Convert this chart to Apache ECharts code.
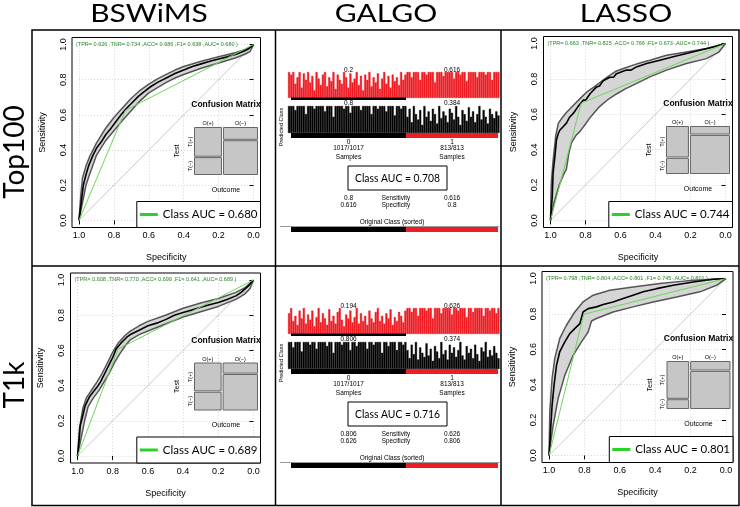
<!DOCTYPE html>
<html><head><meta charset="utf-8">
<script src="https://cdn.jsdelivr.net/npm/echarts@6/dist/echarts.min.js"></script>
<style>html,body{margin:0;padding:0;background:#fff}#c{width:740px;height:507px}</style>
</head><body><div id="c"></div>
<script>
// ================= DATA =================
const methods = ['BSWiMS', 'GALGO', 'LASSO'];
const rowLabels = ['Top100', 'T1k'];
// stats: [TPR, TNR, ACC, F1, AUC]
const bswTopStats = [0.626, 0.734, 0.686, 0.638, 0.680];
const bswBotStats = [0.608, 0.770, 0.699, 0.641, 0.689];
const lassoTopStats = [0.663, 0.825, 0.766, 0.673, 0.744];
const lassoBotStats = [0.798, 0.804, 0.801, 0.745, 0.801];
// share of positive outcomes (mosaic column widths)
const bswTopPrev = 0.444, bswBotPrev = 0.438, lassoTopPrev = 0.364, lassoBotPrev = 0.36;

// ROC curves [specificity, sensitivity]
const bswTopMean = [[1,0],[0.985,0.12],[0.975,0.2],[0.96,0.26],[0.945,0.31],[0.92,0.37],[0.9,0.41],[0.87,0.45],[0.845,0.49],[0.82,0.52],[0.79,0.56],[0.76,0.6],[0.73,0.635],[0.7,0.665],[0.66,0.705],[0.63,0.73],[0.59,0.76],[0.55,0.785],[0.5,0.81],[0.45,0.835],[0.4,0.855],[0.35,0.875],[0.3,0.89],[0.25,0.905],[0.2,0.918],[0.15,0.93],[0.1,0.945],[0.06,0.96],[0.03,0.975],[0.01,0.99],[0,1]];
const bswTopUpper = [[1,0],[0.99,0.14],[0.98,0.24],[0.96,0.31],[0.94,0.36],[0.9,0.44],[0.85,0.52],[0.8,0.585],[0.75,0.64],[0.7,0.695],[0.65,0.74],[0.6,0.775],[0.55,0.805],[0.5,0.83],[0.45,0.855],[0.4,0.875],[0.3,0.905],[0.2,0.93],[0.1,0.955],[0.05,0.97],[0,1]];
const bswTopLower = [[1,0],[0.98,0.1],[0.96,0.2],[0.94,0.26],[0.9,0.37],[0.85,0.45],[0.8,0.51],[0.75,0.57],[0.7,0.625],[0.65,0.68],[0.6,0.725],[0.55,0.755],[0.5,0.785],[0.45,0.81],[0.4,0.83],[0.3,0.865],[0.2,0.895],[0.1,0.925],[0.05,0.945],[0.02,0.96],[0,1]];

const bswBotMean = [[1,0],[0.99,0.1],[0.985,0.17],[0.97,0.23],[0.957,0.285],[0.94,0.32],[0.93,0.34],[0.91,0.365],[0.89,0.39],[0.87,0.42],[0.855,0.45],[0.835,0.49],[0.815,0.53],[0.8,0.56],[0.78,0.61],[0.75,0.645],[0.72,0.675],[0.7,0.69],[0.65,0.715],[0.6,0.74],[0.55,0.755],[0.5,0.775],[0.45,0.8],[0.4,0.815],[0.35,0.83],[0.3,0.845],[0.25,0.86],[0.2,0.872],[0.15,0.89],[0.1,0.91],[0.07,0.93],[0.03,0.965],[0,1]];
const bswBotUpper = [[1,0],[0.99,0.15],[0.97,0.27],[0.95,0.33],[0.92,0.375],[0.89,0.42],[0.86,0.47],[0.83,0.53],[0.8,0.59],[0.77,0.64],[0.73,0.685],[0.7,0.71],[0.65,0.74],[0.6,0.765],[0.5,0.8],[0.4,0.84],[0.3,0.87],[0.2,0.895],[0.1,0.93],[0.05,0.955],[0,1]];
const bswBotLower = [[1,0],[0.98,0.1],[0.96,0.2],[0.94,0.28],[0.91,0.33],[0.88,0.37],[0.85,0.42],[0.82,0.47],[0.79,0.53],[0.76,0.58],[0.73,0.625],[0.7,0.66],[0.65,0.69],[0.6,0.71],[0.5,0.75],[0.4,0.79],[0.3,0.82],[0.2,0.85],[0.1,0.89],[0.05,0.92],[0.02,0.95],[0,1]];

const lassoTopMean = [[1,0],[0.99,0.135],[0.985,0.27],[0.975,0.36],[0.966,0.455],[0.956,0.49],[0.947,0.51],[0.928,0.53],[0.909,0.55],[0.89,0.585],[0.87,0.605],[0.842,0.645],[0.813,0.68],[0.8,0.68],[0.775,0.715],[0.737,0.755],[0.72,0.76],[0.699,0.79],[0.661,0.81],[0.64,0.81],[0.623,0.83],[0.566,0.85],[0.54,0.85],[0.509,0.868],[0.451,0.887],[0.375,0.906],[0.299,0.925],[0.223,0.944],[0.147,0.962],[0.07,0.981],[0,1]];
const lassoTopUpper = [[1,0],[0.997,0.15],[0.994,0.23],[0.985,0.34],[0.97,0.48],[0.955,0.55],[0.93,0.585],[0.909,0.61],[0.87,0.65],[0.83,0.69],[0.794,0.725],[0.75,0.755],[0.718,0.78],[0.67,0.815],[0.623,0.845],[0.575,0.862],[0.528,0.878],[0.48,0.893],[0.432,0.906],[0.337,0.934],[0.223,0.953],[0.109,0.972],[0,1]];
const lassoTopLower = [[1,0],[0.98,0.1],[0.95,0.2],[0.925,0.26],[0.909,0.29],[0.895,0.38],[0.88,0.44],[0.855,0.48],[0.83,0.505],[0.8,0.545],[0.775,0.58],[0.718,0.645],[0.67,0.685],[0.623,0.715],[0.575,0.742],[0.528,0.765],[0.432,0.812],[0.337,0.85],[0.223,0.887],[0.109,0.915],[0.04,0.95],[0,1]];

const lassoBotMean = [[1,0],[0.992,0.132],[0.983,0.283],[0.972,0.396],[0.958,0.509],[0.94,0.585],[0.911,0.642],[0.883,0.689],[0.855,0.717],[0.826,0.745],[0.815,0.745],[0.808,0.811],[0.779,0.83],[0.732,0.84],[0.694,0.853],[0.638,0.868],[0.581,0.887],[0.525,0.906],[0.468,0.925],[0.392,0.943],[0.298,0.962],[0.185,0.981],[0.072,0.996],[0,1]];
const lassoBotUpper = [[1,0],[0.996,0.245],[0.983,0.434],[0.968,0.547],[0.94,0.66],[0.902,0.736],[0.855,0.811],[0.808,0.868],[0.751,0.906],[0.657,0.934],[0.525,0.953],[0.374,0.972],[0.223,0.987],[0,1]];
const lassoBotLower = [[1,0],[0.99,0.08],[0.977,0.17],[0.949,0.321],[0.911,0.453],[0.864,0.566],[0.817,0.642],[0.779,0.698],[0.76,0.76],[0.732,0.774],[0.638,0.811],[0.525,0.84],[0.411,0.868],[0.279,0.896],[0.147,0.925],[0.053,0.962],[0,1]];

// GALGO
const classNames = ['0', '1'];
const classCounts = [1017, 813];
const galgoTopFreq = { red: [0.2, 0.616], black: [0.8, 0.384] };
const galgoBotFreq = { red: [0.194, 0.626], black: [0.806, 0.374] };
const galgoTopAUC = 0.708, galgoBotAUC = 0.716;
const galgoTopSensSpec = [[0.8, 0.616], [0.616, 0.8]];   // [class0 col, class1 col]
const galgoBotSensSpec = [[0.806, 0.626], [0.626, 0.806]];
// per-sample bars (estimated), class 0 then class 1
const redTop0 = [1,.9,1,.55,.8,1,.4,.95,.7,1,.6,.85,.3,1,.75,.5,.9,1,.45,.8,.65,1,.35,.9,.7,.55,1,.8,.4,.95,.6,.75,1,.5,.85,.3,.9,.7,1,.45,.8,.6,.95,.35,.75,1,.55,.85,.4,.9,.65,.8,.5,1,.7,.9];
const redTop1 = [1,1,.8,1,1,1,.7,1,1,.9,1,1,1,.6,1,1,1,.85,1,1,1,1,.75,1,1,.9,1,1,.65,1,1,1,1,.8,1,1,1,.9,1,1,.7,1,1,1];
const blackTop0 = [1,1,1,.85,1,1,1,1,.7,1,1,1,.9,1,1,1,1,.8,1,1,1,.6,1,1,1,1,.9,1,1,.75,1,1,1,1,.85,1,1,1,1,.7,1,1,.9,1,1,1,.8,1,1,1,.65,1,1,.9,1,1];
const blackTop1 = [.6,.9,.4,1,.7,.5,.85,.3,1,.6,.8,.45,.9,.7,.35,1,.55,.8,.65,.4,.9,.75,.5,1,.6,.3,.85,.7,.45,.95,.6,.8,.4,.7,1,.5,.85,.6,.35,.9,.7,.55,.8,.65];
const redBot0 = [.8,1,.5,.7,.35,.9,.6,1,.4,.75,.55,.9,.3,.65,1,.45,.8,.6,.35,.95,.5,.7,.4,.85,1,.55,.3,.75,.6,.9,.45,.65,1,.4,.8,.5,.7,.35,.9,.6,.45,.85,1,.5,.7,.4,.8,.6,.95,.35,.65,.5,.85,.7,.45,.9];
const redBot1 = [1,1,.85,1,1,.7,1,1,1,.9,1,1,.6,1,1,1,.8,1,1,1,1,.75,1,1,.9,1,1,1,.65,1,1,.85,1,1,1,1,.7,1,1,.9,1,1,.8,1];
const blackBot0 = [1,1,.8,1,1,1,.65,1,1,1,.9,1,1,.75,1,1,1,1,.85,1,1,.6,1,1,1,.9,1,1,1,.7,1,1,.85,1,1,1,1,.75,1,1,.9,1,1,1,.6,1,1,.85,1,1,1,.7,1,1,.9,1];
const blackBot1 = [.7,.4,.9,.55,1,.35,.8,.6,.45,.95,.5,.75,.3,.85,.65,.4,1,.55,.7,.35,.9,.6,.8,.45,.7,1,.5,.35,.85,.6,.75,.4,.9,.55,.3,.8,.65,1,.45,.7,.5,.85,.6,.4];

// ================= BUILD =================
const SANS = "'Liberation Sans', Arial, sans-serif";
const CAL = "Lato, 'Open Sans', sans-serif";
const RED = '#ee1d23';
const grids = [], xAxes = [], yAxes = [], series = [], legends = [], graphics = [];

function addGrid(g, xa, ya) {
  grids.push(Object.assign({ outerBoundsMode: 'none', containLabel: false }, g));
  const i = grids.length - 1;
  xAxes.push(Object.assign({ gridIndex: i }, xa));
  yAxes.push(Object.assign({ gridIndex: i }, ya));
  return i;
}
const hidVal = (min, max) => ({ type: 'value', min, max, show: false });
function txt(x, y, text, opt) {
  opt = opt || {};
  graphics.push({
    type: 'text', x, y, z: 100, rotation: opt.rot || 0, scaleX: opt.sx || 1, scaleY: opt.sy || 1, silent: true,
    style: { text, fontSize: opt.size || 7, fontFamily: opt.font || SANS, fontWeight: opt.weight || 'normal',
      fill: opt.color || '#000', align: opt.align || 'center', verticalAlign: opt.va || 'middle' }
  });
}
function line(x1, y1, x2, y2, w, c) {
  graphics.push({ type: 'line', z: 100, silent: true, shape: { x1, y1, x2, y2 }, style: { stroke: c || '#000', lineWidth: w || 1 } });
}

function rocPanel(box, stats, prev, mean, upper, lower) {
  addGrid({ left: box.x, top: box.y, width: box.w, height: box.h, show: true, borderColor: '#000', borderWidth: 1, backgroundColor: 'rgba(0,0,0,0)' }, hidVal(0, 1), hidVal(0, 1));
  const px = box.w * 0.04 / 1.08, py = box.h * 0.04 / 1.08;
  const lab = { fontSize: 9, color: '#000', fontFamily: SANS, margin: 4, formatter: v => v.toFixed(1), showMinLabel: true, showMaxLabel: true };
  const gi = addGrid({ left: box.x + px, top: box.y + py, width: box.w - 2 * px, height: box.h - 2 * py },
    { type: 'value', min: 0, max: 1, interval: 0.2, inverse: true, offset: px,
      axisLine: { show: false }, axisTick: { show: true, length: 4, lineStyle: { color: '#000', width: 1 } },
      axisLabel: lab, splitLine: { show: true, lineStyle: { color: '#d6d6d6', width: 1, type: [1, 2] } },
      name: 'Specificity', nameLocation: 'middle', nameGap: 26, nameTextStyle: { fontSize: 9, fontFamily: SANS, color: '#000' } },
    { type: 'value', min: 0, max: 1, interval: 0.2, offset: py,
      axisLine: { show: false }, axisTick: { show: true, length: 4, lineStyle: { color: '#000', width: 1 } },
      axisLabel: Object.assign({ rotate: 90 }, lab), splitLine: { show: true, lineStyle: { color: '#d6d6d6', width: 1, type: [1, 2] } },
      name: 'Sensitivity', nameLocation: 'middle', nameGap: 25, nameTextStyle: { fontSize: 9, fontFamily: SANS, color: '#000' } });
  const poly = upper.concat(lower.slice().reverse());
  series.push({ type: 'custom', xAxisIndex: gi, yAxisIndex: gi, data: poly, encode: { x: 0, y: 1 }, silent: true, z: 1,
    renderItem(params, api) {
      if (params.dataIndex !== 0) return null;
      return { type: 'polygon', shape: { points: poly.map(p => api.coord(p)) }, style: { fill: '#d5d5d5', stroke: null } };
    } });
  series.push({ type: 'line', xAxisIndex: gi, yAxisIndex: gi, data: [[1, 0], [0, 1]], showSymbol: false, silent: true, z: 2,
    lineStyle: { color: '#c8c8c8', width: 1 }, color: '#c8c8c8' });
  [upper, lower].forEach(d => series.push({ type: 'line', xAxisIndex: gi, yAxisIndex: gi, data: d, showSymbol: false, silent: true, z: 3,
    lineStyle: { color: '#555', width: 1.5 }, color: '#555' }));
  series.push({ type: 'line', xAxisIndex: gi, yAxisIndex: gi, data: mean, showSymbol: false, silent: true, z: 4,
    lineStyle: { color: '#000', width: 1.6 }, color: '#000' });
  const name = 'Class AUC = ' + stats[4].toFixed(3);
  series.push({ name, type: 'line', xAxisIndex: gi, yAxisIndex: gi, data: [[1, 0], [stats[1], stats[0]], [0, 1]], showSymbol: false, silent: true, z: 5,
    lineStyle: { color: '#6ad855', width: 1 }, color: '#6ad855' });
  legends.push({ data: [{ name, icon: 'rect' }], right: 740 - (box.x + box.w), bottom: 507 - (box.y + box.h), itemWidth: 18, itemHeight: 3,
    padding: [7, 3, 7, 3], borderColor: '#000', borderWidth: 1, backgroundColor: '#fff', selectedMode: false, z: 20,
    itemStyle: { color: '#2ad22a' }, textStyle: { fontSize: 11.5, fontFamily: CAL, color: '#000' } });
  const st = '(TPR= ' + stats[0].toFixed(3) + ' ,TNR= ' + stats[1].toFixed(3) + ' ,ACC= ' + stats[2].toFixed(3) + ' ,F1= ' + stats[3].toFixed(3) + ' ,AUC= ' + stats[4].toFixed(3) + ' )';
  txt(box.x + 4, box.y + 6.5, st, { size: 5.5, align: 'left', color: '#2b8a2b' });
  // mosaic
  const mx = box.x + box.w - 66, my = box.y + 90, mw = 63, mh = 47;
  const mg = addGrid({ left: mx, top: my, width: mw, height: mh }, hidVal(0, 1), hidVal(0, 1));
  const tpr = stats[0], tnr = stats[1];
  const cells = [
    [0, prev, 1 - tpr, 1, 'O(+)', 'T(+)'],
    [0, prev, 0, 1 - tpr, '', 'T(\u2212)'],
    [prev, 1, tnr, 1, 'O(\u2212)', ''],
    [prev, 1, 0, tnr, '', '']
  ];
  series.push({ type: 'custom', xAxisIndex: mg, yAxisIndex: mg, clip: false, silent: true, z: 6,
    data: cells.map(c => [c[0], c[1], c[2], c[3]]),
    renderItem(params, api) {
      const c = cells[params.dataIndex];
      const tl = api.coord([c[0], c[3]]), br = api.coord([c[1], c[2]]);
      const gx = 1.0, gy = 0.7;
      const x0 = tl[0] + (c[0] > 0 ? gx : 0), x1 = br[0] - (c[1] < 1 ? gx : 0);
      const y0 = tl[1] + (c[3] < 1 ? gy : 0), y1 = br[1] - (c[2] > 0 ? gy : 0);
      const ch = [{ type: 'rect', shape: { x: x0, y: y0, width: x1 - x0, height: y1 - y0 }, style: { fill: '#c6c6c6', stroke: '#666', lineWidth: 1 } }];
      if (c[4]) ch.push({ type: 'text', x: (x0 + x1) / 2, y: y0 - 1, style: { text: c[4], fontSize: 5.5, fontFamily: SANS, fill: '#000', align: 'center', verticalAlign: 'bottom' } });
      if (c[5]) ch.push({ type: 'text', x: x0 - 1.5, y: (y0 + y1) / 2, rotation: Math.PI / 2, style: { text: c[5], fontSize: 5.5, fontFamily: SANS, fill: '#000', align: 'center', verticalAlign: 'bottom' } });
      return { type: 'group', children: ch };
    } });
  txt(mx + mw / 2, my - 22.5, 'Confusion Matrix', { size: 8.5, weight: 'bold' });
  txt(mx - 17, my + mh / 2, 'Test', { size: 7, rot: Math.PI / 2 });
  txt(mx + mw / 2, my + mh + 15.5, 'Outcome', { size: 7 });
}

function classBar(left, top, width, height, colors) {
  const gi = addGrid({ left, top, width, height },
    { type: 'value', min: 0, max: classCounts[0] + classCounts[1], show: false },
    { type: 'category', data: ['c'], show: false });
  classCounts.forEach((n, k) => series.push({ type: 'bar', xAxisIndex: gi, yAxisIndex: gi, stack: 'cls' + gi, data: [n],
    barWidth: '100%', silent: true, itemStyle: { color: colors[k] } }));
}

function galgoPanel(T, red, black, freq, auc, sensSpec) {
  const L = 288, R = 499.5;
  [[red, RED, T + 42, 26], [black, '#000', T + 76, 27]].forEach(([vals, col, top, h]) => {
    const gi = addGrid({ left: L, top, width: R - L, height: h },
      { type: 'category', data: vals.map((_, i) => i), show: false },
      hidVal(0, 1));
    series.push({ type: 'bar', xAxisIndex: gi, yAxisIndex: gi, data: vals, barCategoryGap: '0%', silent: true,
      itemStyle: { color: col, borderColor: col, borderWidth: 0.4 } });
  });
  const cx0 = 291, cw = 207;
  const tot = classCounts[0] + classCounts[1];
  const split = cx0 + cw * classCounts[0] / tot;
  const c0 = (cx0 + split) / 2, c1 = (split + cx0 + cw) / 2;
  classBar(cx0, T + 67.5, cw, 2.5, ['#000', 'rgba(0,0,0,0)']);
  classBar(cx0, T + 103, cw, 5, ['#000', RED]);
  const cs = [c0, c1];
  for (let k = 0; k < 2; k++) {
    txt(cs[k], T + 40.5, String(freq.red[k]), { size: 6.5 });
    txt(cs[k], T + 73.5, String(freq.black[k]), { size: 6.5 });
    txt(cs[k], T + 112.5, classNames[k], { size: 6.5 });
    txt(cs[k], T + 118.5, classCounts[k] + '/' + classCounts[k], { size: 6.5 });
    txt(cs[k], T + 127.5, 'Samples', { size: 6.5 });
    txt(cs[k], T + 168, String(sensSpec[k][0]), { size: 6.5 });
    txt(cs[k], T + 175.5, String(sensSpec[k][1]), { size: 6.5 });
  }
  txt(396, T + 168, 'Sensitivity', { size: 6.3 });
  txt(396, T + 175.5, 'Specificity', { size: 6.3 });
  txt(281.5, T + 97, 'Predicted Class', { size: 5.5, rot: Math.PI / 2 });
  graphics.push({ type: 'rect', z: 100, silent: true, shape: { x: 348, y: T + 136, width: 99, height: 24 }, style: { fill: '#fff', stroke: '#000', lineWidth: 1 } });
  txt(397.5, T + 148, 'Class AUC = ' + auc.toFixed(3), { size: 12, font: CAL, sx: 0.86 });
  txt(392, T + 192.5, 'Original Class (sorted)', { size: 6.5 });
  line(280, T + 196.5, 499.5, T + 196.5, 1, '#999');
  classBar(cx0, T + 196.5, cw, 5.5, ['#000', RED]);
}

rocPanel({ x: 72, y: 37.5, w: 188.5, h: 190 }, bswTopStats, bswTopPrev, bswTopMean, bswTopUpper, bswTopLower);
rocPanel({ x: 70.5, y: 273, w: 190, h: 190 }, bswBotStats, bswBotPrev, bswBotMean, bswBotUpper, bswBotLower);
rocPanel({ x: 543.5, y: 36.5, w: 189, h: 191 }, lassoTopStats, lassoTopPrev, lassoTopMean, lassoTopUpper, lassoTopLower);
rocPanel({ x: 542, y: 271.5, w: 191, h: 191 }, lassoBotStats, lassoBotPrev, lassoBotMean, lassoBotUpper, lassoBotLower);
galgoPanel(30, redTop0.concat(redTop1), blackTop0.concat(blackTop1), galgoTopFreq, galgoTopAUC, galgoTopSensSpec);
galgoPanel(266, redBot0.concat(redBot1), blackBot0.concat(blackBot1), galgoBotFreq, galgoBotAUC, galgoBotSensSpec);

txt(149, 14, methods[0], { size: 25, font: CAL, sx: 1.2 });
txt(386, 14, methods[1], { size: 25, font: CAL, sx: 1.2 });
txt(626, 14, methods[2], { size: 25, font: CAL, sx: 1.2 });
txt(15, 152, rowLabels[0], { size: 28, font: CAL, rot: Math.PI / 2 });
txt(15, 385, rowLabels[1], { size: 28, font: CAL, rot: Math.PI / 2 });
graphics.push({ type: 'rect', z: 100, silent: true, shape: { x: 32, y: 30, width: 707, height: 475.5 }, style: { fill: null, stroke: '#000', lineWidth: 1.5 } });
line(275.5, 30, 275.5, 505.5, 1.5);
line(501, 30, 501, 505.5, 1.5);
line(32, 266, 739, 266, 1.5);

const chart = echarts.init(document.getElementById('c'), null, { renderer: 'canvas', width: 740, height: 507 });
chart.setOption({
  animation: false,
  backgroundColor: '#fff',
  textStyle: { fontFamily: SANS },
  grid: grids, xAxis: xAxes, yAxis: yAxes, series, legend: legends,
  graphic: { elements: graphics }
});
</script></body></html>
